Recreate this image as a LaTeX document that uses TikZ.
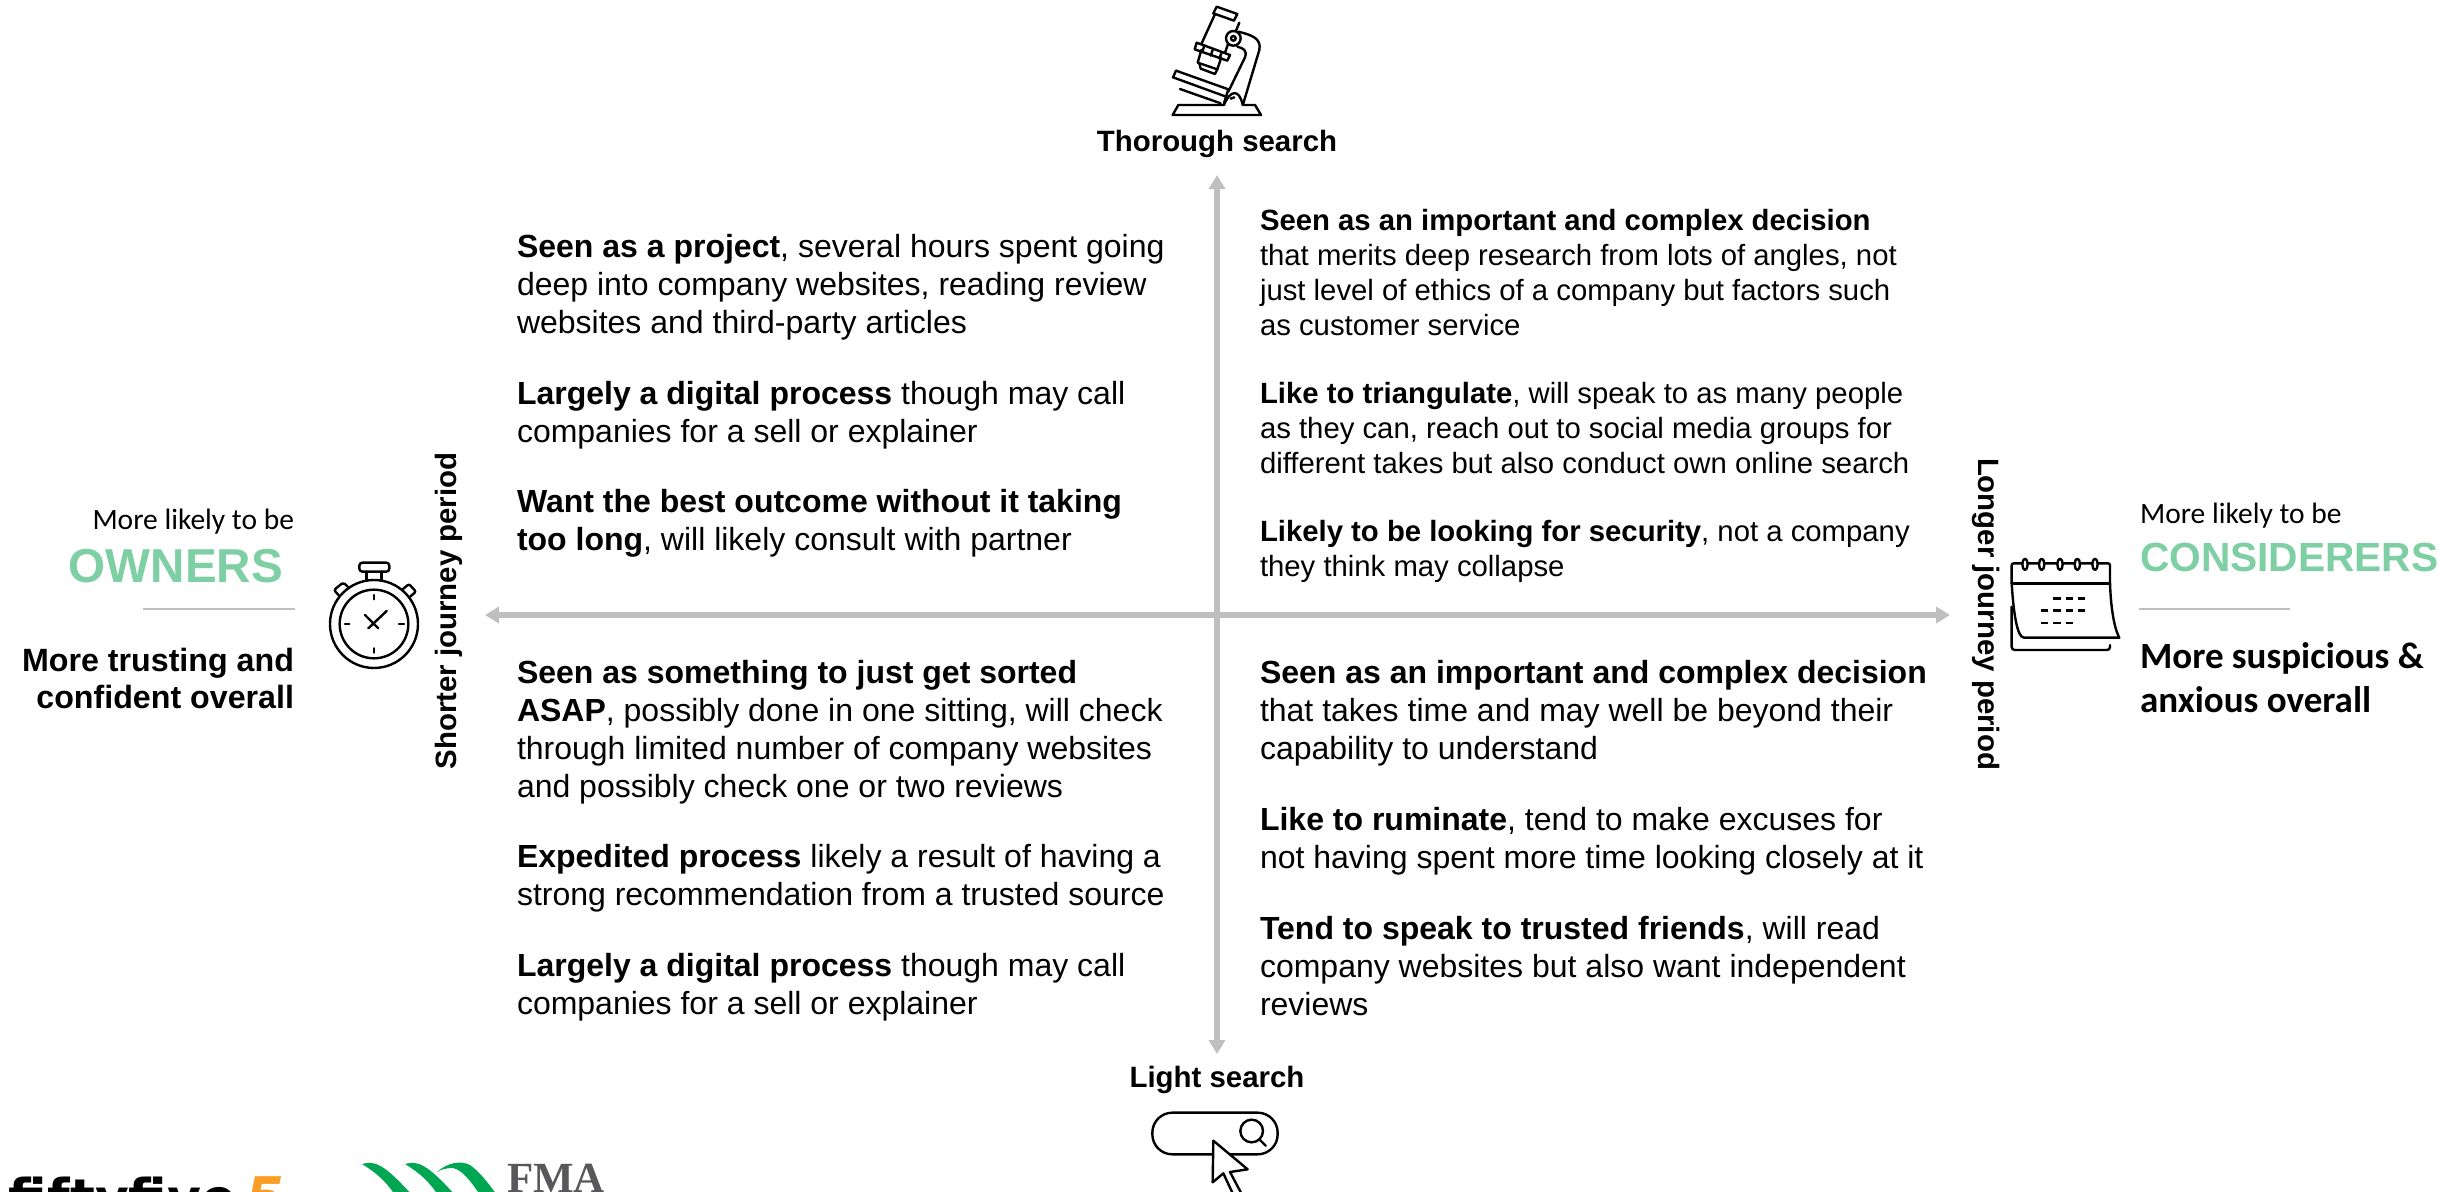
\documentclass[tikz,border=0pt]{standalone}
\usepackage{fontspec}
\setmainfont[Ligatures=NoCommon]{Liberation Sans}
\newfontfamily\carl{Carlito}
\newfontfamily\libserif{Liberation Serif}
\newfontfamily\djv{DejaVu Sans}
\usetikzlibrary{arrows.meta}
\definecolor{axisgray}{HTML}{BFBFBF}
\definecolor{rulegray}{HTML}{BFBFBF}
\definecolor{mint}{HTML}{7FCFA5}
\definecolor{fmagreen}{HTML}{00A651}
\definecolor{fmagray}{HTML}{58585A}
\definecolor{ffive}{HTML}{F99D25}
\tikzset{
  x=1pt,y=-1pt,
  txt/.style={inner sep=0pt,outer sep=0pt,text=black,align=left},
  bodyL/.style={txt,anchor=north west,font=\fontsize{32}{38.2}\selectfont},
  bodyR/.style={txt,anchor=north west,font=\fontsize{29.3}{35}\selectfont},
  axislabel/.style={txt,anchor=center,font=\fontsize{29.4}{34}\selectfont\bfseries},
  axisline/.style={draw=axisgray,line width=5.5pt,{Triangle[length=14pt,width=16pt]}-{Triangle[length=14pt,width=16pt]}},
  icon/.style={draw=black,line width=2.4pt,line join=round,line cap=round},
  thinrule/.style={draw=rulegray,line width=1.2pt},
}
\newcommand{\paraL}[4]{\node[bodyL] (#1) at (#2,#3-26.74) {\strut #4};}
\newcommand{\paraR}[4]{\node[bodyR] (#1) at (#2,#3-24.5) {\strut #4};}
\begin{document}
\begin{tikzpicture}
\useasboundingbox (0,0) rectangle (2456,1191);
\begin{scope}
\clip (0,0) rectangle (2456,1191);
% axes
\coordinate (axL) at (485,615);
\coordinate (axR) at (1950,615);
\coordinate (axT) at (1217,175);
\coordinate (axB) at (1217,1054);
\draw[axisline] (axL) -- (axR);
\draw[axisline] (axT) -- (axB);

% axis labels
\node[axislabel] (thorough) at (1217,144) {Thorough search};
\node[axislabel] (light) at (1217,1080) {Light search};
\node[axislabel,rotate=90] (shorter) at (449,611) {Shorter journey period};
\node[axislabel,rotate=-90] (longer) at (1986,614) {Longer journey period};

% top-left
\paraL{tla}{517}{257}{\textbf{Seen as a project}, several hours spent going\\deep into company websites, reading review\\websites and third-party articles}
\paraL{tlb}{517}{404}{\textbf{Largely a digital process} though may call\\companies for a sell or explainer}
\paraL{tlc}{517}{512}{\textbf{Want the best outcome without it taking}\\\textbf{too long}, will likely consult with partner}
% bottom-left
\paraL{bla}{517}{683}{\textbf{Seen as something to just get sorted}\\\textbf{ASAP}, possibly done in one sitting, will check\\through limited number of company websites\\and possibly check one or two reviews}
\paraL{blb}{517}{867}{\textbf{Expedited process} likely a result of having a\\strong recommendation from a trusted source}
\paraL{blc}{517}{976}{\textbf{Largely a digital process} though may call\\companies for a sell or explainer}
% top-right
\paraR{tra}{1260}{230}{\textbf{Seen as an important and complex decision}\\that merits deep research from lots of angles, not\\just level of ethics of a company but factors such\\as customer service}
\paraR{trb}{1260}{403}{\textbf{Like to triangulate}, will speak to as many people\\as they can, reach out to social media groups for\\different takes but also conduct own online search}
\paraR{trc}{1260}{541}{\textbf{Likely to be looking for security}, not a company\\they think may collapse}
% bottom-right
\paraL{bra}{1260}{683}{\textbf{Seen as an important and complex decision}\\that takes time and may well be beyond their\\capability to understand}
\paraL{brb}{1260}{830}{\textbf{Like to ruminate}, tend to make excuses for\\not having spent more time looking closely at it}
\paraL{brc}{1260}{939}{\textbf{Tend to speak to trusted friends}, will read\\company websites but also want independent\\reviews}

% owners
\node[txt,anchor=base east,font=\carl\fontsize{29.5}{34}\selectfont] (olikely) at (294,529) {More likely to be};
\node[txt,anchor=base east,font=\fontsize{47.6}{56}\selectfont\bfseries,text=mint] (owners) at (283,582) {OWNERS};
\coordinate (orA) at (143,609); \coordinate (orB) at (295,609);
\draw[thinrule] (orA) -- (orB);
\node[txt,anchor=north east,align=right,font=\fontsize{32.2}{37.6}\selectfont\bfseries] (otrust) at (294,645) {\strut More trusting and\\confident overall};

% considerers
\node[txt,anchor=base west,font=\carl\fontsize{29.5}{34}\selectfont] (clikely) at (2140,523) {More likely to be};
\node[txt,anchor=base west,font=\fontsize{40.7}{50}\selectfont\bfseries,text=mint] (considerers) at (2140,571) {CONSIDERERS};
\coordinate (crA) at (2139,609); \coordinate (crB) at (2290,609);
\draw[thinrule] (crA) -- (crB);
\node[txt,anchor=north west,font=\carl\fontsize{37}{44.5}\selectfont\bfseries] (csusp) at (2140,637) {\strut More suspicious \&\\anxious overall};

% microscope
\begin{scope}[shift={(1100,0)},x=0.3333pt,y=-0.3333pt]
\draw[icon] (218,345) -- (235,315) -- (372,315) .. controls (390,270) and (418,265) .. (428,315) -- (465,315) -- (483,345) -- cycle;
\draw[icon] (392,296) -- (403,292);
\draw[icon] (415,95) .. controls (455,105) and (485,115) .. (478,150) -- (430,310);
\draw[icon] (412,140) .. controls (430,145) and (442,150) .. (435,172) -- (385,275);
\draw[icon] (228,212) -- (385,268) -- (372,310);
\draw[icon] (228,212) -- (219,232) -- (378,290);
\draw[icon] (240,267) -- (362,310);
\draw[icon] (350,20) -- (412,42) -- (402,62) -- (340,40) -- cycle;
\draw[icon] (345,42) -- (305,130);
\draw[icon] (418,68) -- (408,92);
\draw[icon] (385,130) -- (375,158);
\draw[icon] (290,128) -- (390,165) -- (382,182) -- (284,148) -- cycle;
\draw[icon] (312,140) -- (306,157) (338,150) -- (332,167) (364,160) -- (358,176);
\draw[icon] (304,150) -- (293,188) -- (352,208) -- (364,172);
\draw[icon] (298,190) -- (302,206) -- (345,222) -- (352,208);
\draw[icon,fill=white] (400,115) circle (22);
\draw[icon] (400,115) circle (7);
\end{scope}

% search icon
\begin{scope}[shift={(1100,1050)},x=0.3333pt,y=-0.3333pt]
\draw[icon,rounded corners=20pt] (157,188) rectangle (533,313);
\draw[icon] (455,243) circle (34);
\draw[icon] (478,268) -- (497,287);
\draw[icon,fill=white] (340,272) -- (443,358) -- (390,366) -- (432,445) -- (405,445) -- (370,370) -- (338,397) -- cycle;
\end{scope}

% stopwatch
\begin{scope}[shift={(310,540)},x=0.3333pt,y=-0.3333pt]
\draw[icon] (192,252) circle (132);
\draw[icon] (192,252) circle (103);
\draw[icon,rounded corners=3pt] (148,68) rectangle (238,95);
\draw[icon] (170,95) -- (170,122) (215,95) -- (215,122);
\draw[icon,rounded corners=2pt] (88,168) -- (72,150) -- (100,127) -- (118,145);
\draw[icon,rounded corners=2pt] (278,148) -- (297,132) -- (318,155) -- (298,172);
\draw[icon] (192,165) -- (192,178) (192,325) -- (192,338) (105,252) -- (118,252) (267,252) -- (282,252);
\draw[icon] (165,225) -- (205,265) (175,265) -- (230,213);
\end{scope}

% calendar
\begin{scope}[shift={(1980,530)},x=0.3333pt,y=-0.3333pt]
\draw[icon,rounded corners=2pt] (95,160) -- (95,100) -- (390,100) -- (390,160);
\draw[icon] (95,160) -- (390,160);
\foreach \cx in {135,185,240,292,345}{
  \draw[icon,fill=white] (\cx,103) ellipse (8 and 17);
}
\draw[icon] (95,160) .. controls (100,240) and (110,323) .. (132,323) -- (418,323) .. controls (400,290) and (392,220) .. (390,160);
\draw[icon,rounded corners=3pt] (95,230) -- (95,360) -- (390,360) -- (390,345);
\draw[line width=2.4pt,dash pattern=on 7.3pt off 5pt] (220,205) -- (315,205);
\draw[line width=2.4pt,dash pattern=on 7.3pt off 5pt] (183,241) -- (315,241);
\draw[line width=2.4pt,dash pattern=on 7.3pt off 5pt] (183,279) -- (278,279);
\end{scope}

% logos (cut by the page edge)
\node[txt,anchor=base west,font=\djv\fontsize{52}{60}\selectfont\bfseries] (ffword) at (9,1216.5) {fiftyfive};
\node[txt,anchor=base west,font=\djv\fontsize{56}{60}\selectfont\bfseries\itshape,text=ffive] (ffnum) at (245,1217) {5};
\fill[fmagreen] (362,1164) .. controls (375,1160) and (385,1165) .. (412,1195) -- (395,1195) .. controls (385,1180) and (375,1172) .. (362,1164) -- cycle;
\fill[fmagreen] (405,1164) .. controls (418,1160) and (428,1165) .. (455,1195) -- (438,1195) .. controls (428,1180) and (418,1172) .. (405,1164) -- cycle;
\fill[fmagreen] (437,1172) .. controls (447,1163) and (460,1160) .. (470,1165) .. controls (480,1172) and (488,1183) .. (497,1195) -- (480,1195) .. controls (470,1180) and (462,1170) .. (453,1168) .. controls (445,1168) and (440,1170) .. (437,1172) -- cycle;
\node[txt,anchor=base west,font=\libserif\fontsize{43}{50}\selectfont\bfseries,text=fmagray] (fma) at (507,1192.4) {FMA};
\end{scope}
\end{tikzpicture}
\end{document}
